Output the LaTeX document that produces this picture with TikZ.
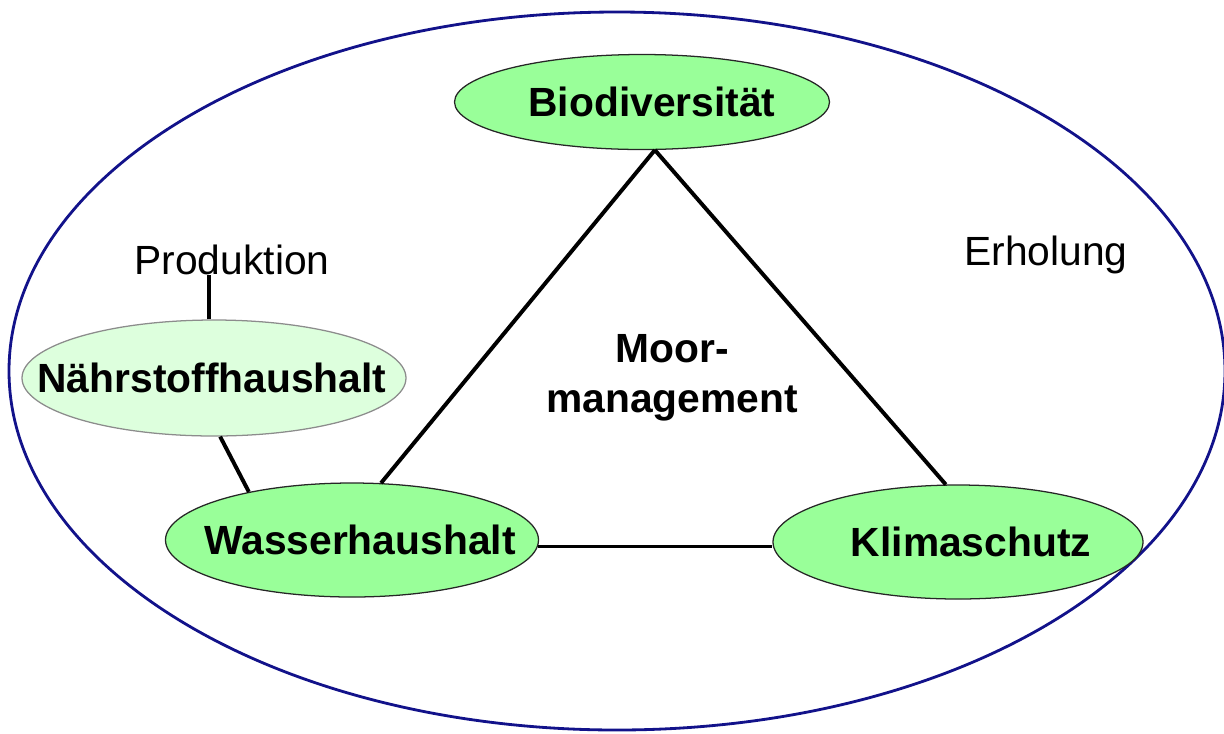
\documentclass[tikz,border=0pt]{standalone}
\usepackage{fontspec}
\setmainfont{Liberation Sans}
\usetikzlibrary{shapes,positioning}
\definecolor{blattgruen}{HTML}{99FF99}
\definecolor{hellgruen}{HTML}{DDFFDD}
\definecolor{rahmenblau}{HTML}{12128A}
\def \px {0.025cm}
\tikzstyle{ziel} = [draw=black!85,ellipse,fill=blattgruen,inner sep=0,line width=0.9pt]
\tikzstyle{neben} = [ziel,draw=black!45,fill=hellgruen]
\tikzstyle{zieltext} = [font=\bfseries\fontsize{29}{35.6}\selectfont,inner sep=0]
\tikzstyle{nutzung} = [font=\fontsize{29}{35.6}\selectfont,inner sep=0]
\tikzstyle{kante} = [-,line width=2.8pt]

\begin{document}
\begin{tikzpicture}[x=\px,y=-\px]
  \useasboundingbox (0,0) rectangle (1224,733);
  \node[ellipse,draw=rahmenblau,line width=2pt,minimum width=1216*\px,minimum height=718*\px] (rahmen) at (617,371) {};
  \node[ziel,minimum width=375*\px,minimum height=95*\px,label={[zieltext,xshift=10*\px]center:Biodiversität}] (bio) at (642,102) {};
  \node[neben,minimum width=384*\px,minimum height=116*\px,label={[zieltext,xshift=-2*\px]center:Nährstoffhaushalt}] (naehr) at (214,378) {};
  \node[ziel,minimum width=373*\px,minimum height=114*\px,label={[zieltext,xshift=8*\px]center:Wasserhaushalt}] (wasser) at (352,540) {};
  \node[ziel,minimum width=370*\px,minimum height=114*\px,label={[zieltext,xshift=13*\px]center:Klimaschutz}] (klima) at (958,542) {};
  \node[nutzung] (prod) at (232,260) {Produktion};
  \node[nutzung] (erhol) at (1046,255) {Erholung};
  \node[zieltext,align=center] (moor) at (672,378) {Moor-\\management};
  % Dreieck
  \draw[kante] (bio.-75) -- (wasser.63);
  \draw[kante] (bio.-75) -- (klima.102);
  \draw[kante] (wasser.-2) -- (wasser.-2 -| klima.west);
  % Naehrstoffe
  \draw[kante] (naehr.95) -- (naehr.95 |- prod.south);
  \draw[kante] (naehr.-84) -- (wasser.155);
\end{tikzpicture}
\end{document}
